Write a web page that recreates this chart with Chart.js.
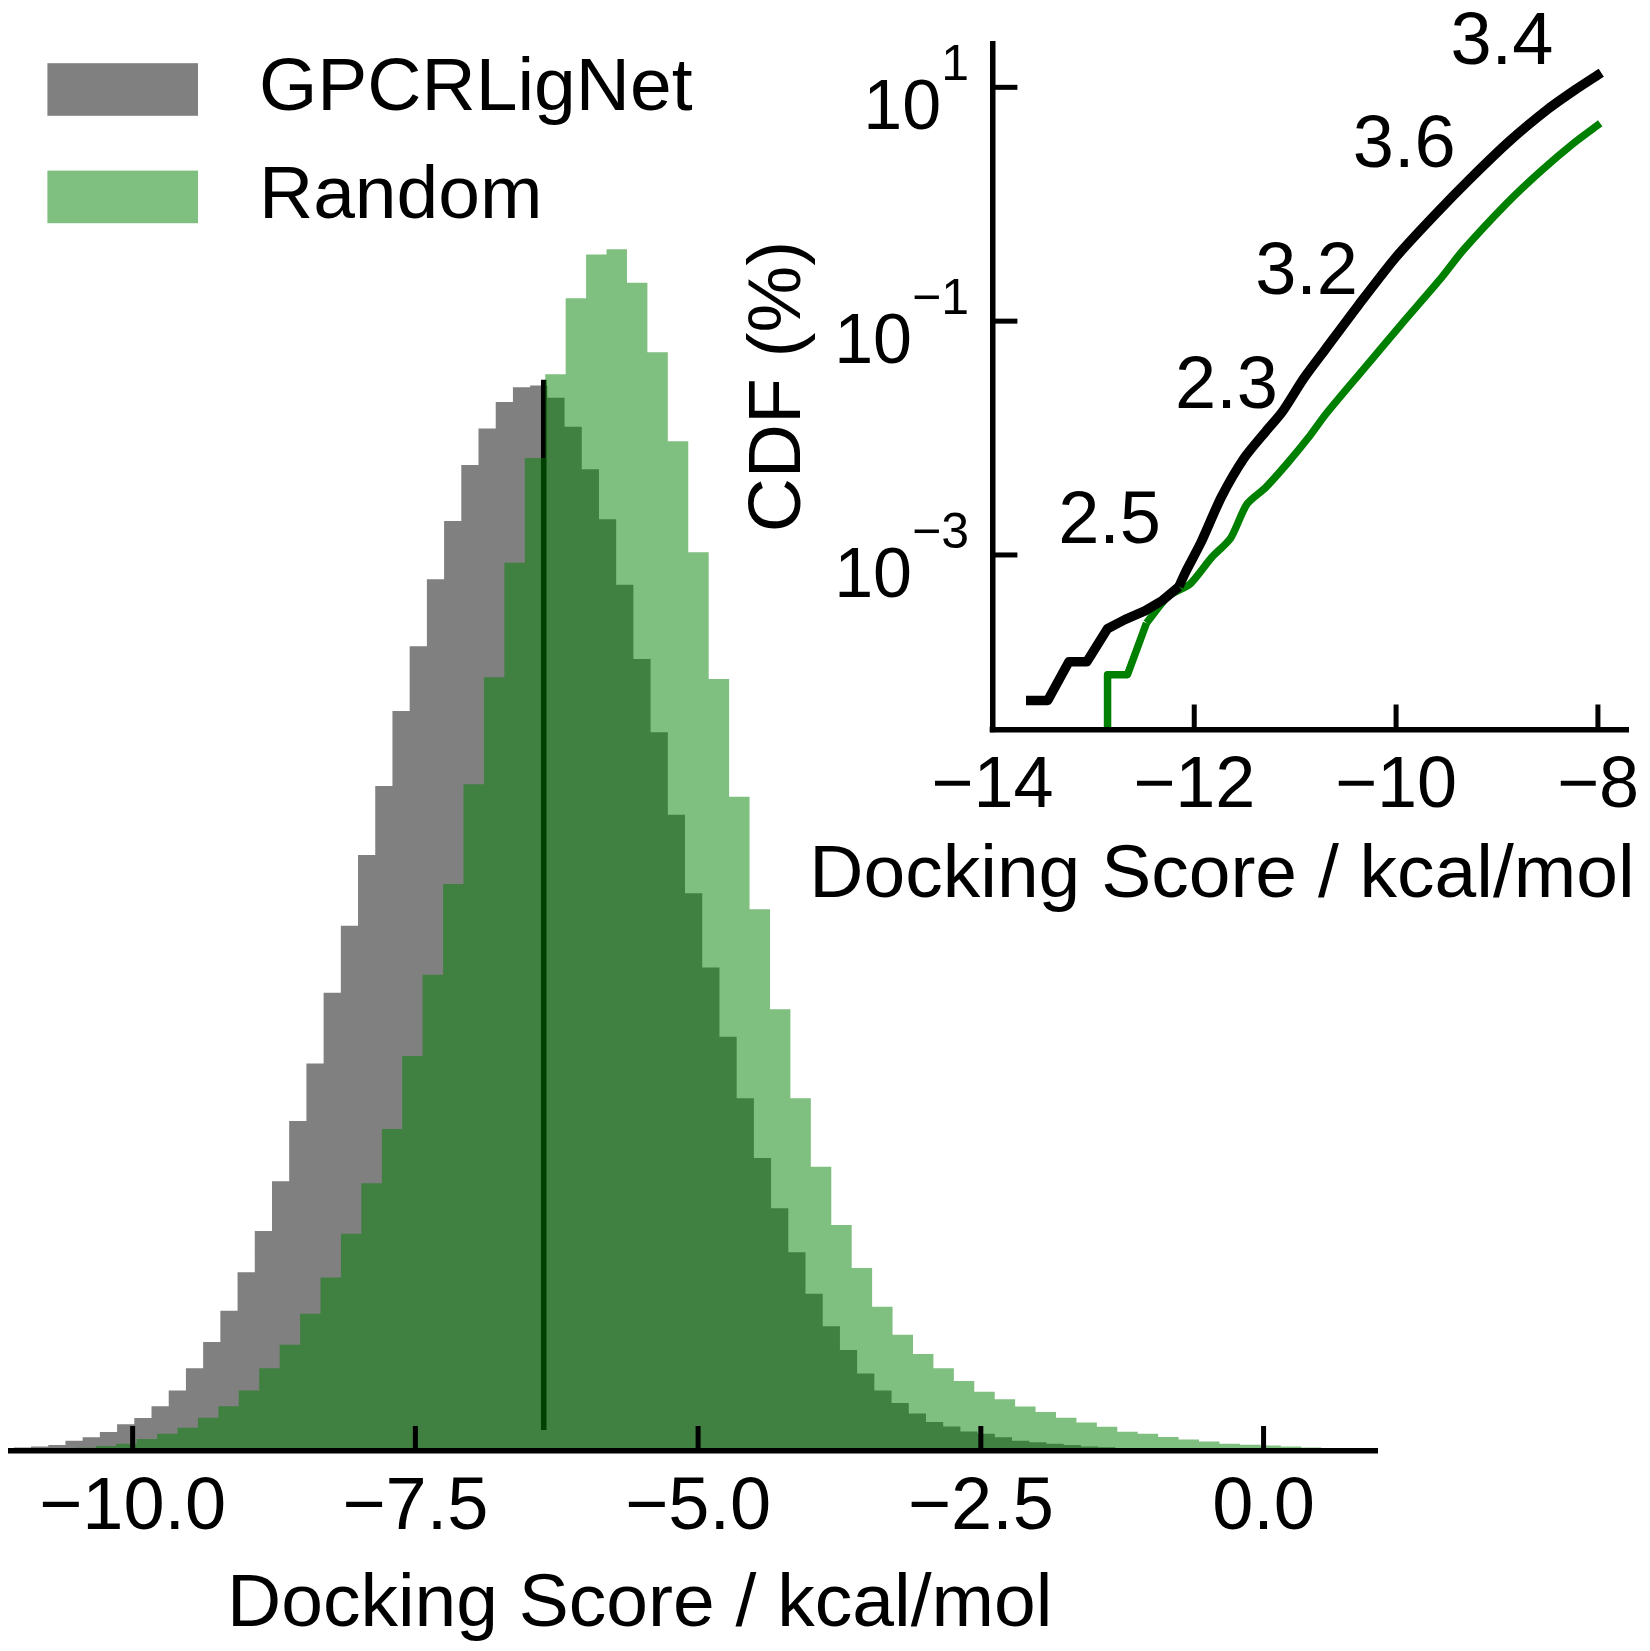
<!DOCTYPE html>
<html lang="en">
  <head>
    <meta charset="UTF-8" />
    <title>Docking score distribution</title>
    <script src="https://cdn.jsdelivr.net/npm/chart.js@4.4.1/dist/chart.umd.min.js"></script>
    <style>
      body {
        margin: 0;
        background: #fff;
      }
      #wrap {
        position: relative;
        width: 1650px;
        height: 1651px;
      }
      #mainChart {
        position: absolute;
        left: 0;
        top: 0;
      }
      #insetChart {
        position: absolute;
        left: 700px;
        top: 0;
      }
    </style>
  </head>
  <body>
    <div id="wrap">
      <canvas id="mainChart" width="1650" height="1651"></canvas>
      <canvas id="insetChart" width="950" height="930"></canvas>
    </div>

    <script>
      // Histogram bins (density)
      const grayStart = -11.2028; // left edge of first GPCRLigNet bin
      const grayWidth = 0.15218;
      const grayDensity = [
        0.0007, 0.001, 0.0013, 0.0017, 0.0029, 0.0039, 0.0054, 0.0076, 0.0094,
        0.0128, 0.0173, 0.0236, 0.0311, 0.04, 0.051, 0.0628, 0.077, 0.0942,
        0.1106, 0.1308, 0.1499, 0.1701, 0.1898, 0.2112, 0.2297, 0.2488, 0.2654,
        0.2814, 0.2918, 0.2994, 0.3036, 0.3041, 0.3006, 0.2923, 0.2802, 0.2659,
        0.2472, 0.226, 0.2051, 0.1816, 0.1592, 0.138, 0.1182, 0.1007, 0.0836,
        0.0693, 0.0567, 0.0449, 0.0356, 0.0288, 0.0221, 0.0173, 0.0137, 0.0107,
        0.0083, 0.007, 0.0056, 0.0049, 0.0039, 0.0029, 0.0025, 0.0021, 0.0017,
        0.0013, 0.0011, 0.0007, 0.0006, 0.0004, 0.0003,
      ];

      const greenStart = -10.5066; // left edge of first Random bin
      const greenWidth = 0.18065;
      const greenDensity = [
        0.0009, 0.0014, 0.0021, 0.0034, 0.0049, 0.0066, 0.0095, 0.0128, 0.0173,
        0.0236, 0.0303, 0.0392, 0.0495, 0.062, 0.0764, 0.0919, 0.1127, 0.1359,
        0.1618, 0.1903, 0.2208, 0.2535, 0.2834, 0.3073, 0.329, 0.3415, 0.343,
        0.3334, 0.3136, 0.2882, 0.2565, 0.2203, 0.1867, 0.1546, 0.1261, 0.1007,
        0.0811, 0.0645, 0.0522, 0.0412, 0.0332, 0.0277, 0.0236, 0.02, 0.0169,
        0.0148, 0.0127, 0.0111, 0.0095, 0.0081, 0.0069, 0.0055, 0.0049, 0.004,
        0.0033, 0.0027, 0.0021, 0.0018, 0.0016, 0.0013, 0.001,
      ];

      const medianScore = -6.365;
      const medianSpan = [0.006, 0.3057];
      const mainTicks = [-10, -7.5, -5, -2.5, 0];

      // Inset: CDF (%) against docking score
      const netScore = [
        -13.667, -13.452, -13.242, -13.064, -12.86, -12.688, -12.489, -12.312,
        -12.151, -12.086, -11.935, -11.731, -11.506, -11.291, -11.129, -10.914,
        -10.699, -10.376, -10.0, -9.624, -9.247, -8.871, -8.494, -8.225, -7.967,
      ];
      const netCdf = [
        5.69e-5, 5.69e-5, 1.22e-4, 1.22e-4, 2.34e-4, 2.8e-4, 3.33e-4, 4.1e-4,
        5.37e-4, 7.14e-4, 1.27e-3, 3.13e-3, 6.73e-3, 0.0114, 0.0167, 0.0325,
        0.0577, 0.136, 0.354, 0.798, 1.714, 3.5, 6.52, 9.53, 13.34,
      ];
      const netStepEnd = 8; // last point of the jagged low-count part
      const randScore = [
        -12.859, -12.859, -12.662, -12.473, -12.258, -12.044, -11.828, -11.64,
        -11.478, -11.291, -11.075, -10.86, -10.699, -10.322, -9.946, -9.569,
        -9.334, -8.904, -8.573, -8.243, -7.978,
      ];
      const randCdf = [
        1e-6, 9.44e-5, 9.44e-5, 2.62e-4, 4.44e-4, 5.62e-4, 9.51e-4, 1.39e-3,
        2.72e-3, 3.79e-3, 6.12e-3, 0.0103, 0.0159, 0.0389, 0.0944, 0.225, 0.406,
        1.018, 1.897, 3.32, 4.92,
      ];
      const randStepEnd = 3;
      const insetXTicks = [-14, -12, -10, -8];
      const insetYTicks = [10, 0.1, 0.001];

      const noteText = ["3.4", "3.6", "3.2", "2.3", "2.5"];
      const noteScore = [-8.952, -9.92, -10.887, -11.681, -12.839];
      const noteCdf = [23.66, 3.11, 0.2534, 0.02704, 0.001901];

      const FONT = '"Liberation Sans", Arial, sans-serif';
      Chart.defaults.font.family = FONT;
      Chart.defaults.color = "#000";

      const minus = (s) => String(s).replace("-", "\u2212");

      // histogram outline as a closed staircase
      function histPoints(start, width, dens) {
        const pts = [];
        dens.forEach((d, i) => {
          const left = start + i * width;
          pts.push({ x: left, y: d }, { x: left + width, y: d });
        });
        return pts;
      }

      const xy = (xs, ys) => xs.map((x, i) => ({ x, y: ys[i] }));

      // ticks pointing into the plot, like the original
      const inwardTicks = {
        id: "inwardTicks",
        afterDatasetsDraw(chart, args, opts) {
          const { ctx, chartArea: a, scales } = chart;
          ctx.save();
          ctx.strokeStyle = "#000";
          ctx.lineWidth = opts.width;
          (opts.x || []).forEach((v) => {
            const px = scales.x.getPixelForValue(v);
            ctx.beginPath();
            ctx.moveTo(px, a.bottom);
            ctx.lineTo(px, a.bottom - opts.length);
            ctx.stroke();
          });
          (opts.y || []).forEach((v) => {
            const py = scales.y.getPixelForValue(v);
            ctx.beginPath();
            ctx.moveTo(a.left, py);
            ctx.lineTo(a.left + opts.length, py);
            ctx.stroke();
          });
          if (opts.corner) {
            ctx.fillStyle = "#000";
            ctx.fillRect(a.left - 2.75, a.bottom - 2.75, 5.5, 5.5);
          }
          ctx.restore();
        },
      };

      // legend boxes + x title of the main panel
      const mainDecor = {
        id: "mainDecor",
        afterDraw(chart) {
          const ctx = chart.ctx;
          ctx.save();
          ctx.font = "75px " + FONT;
          ctx.textBaseline = "middle";
          const items = chart.data.datasets
            .filter((d) => d.inLegend)
            .sort((a, b) => a.legendRank - b.legendRank);
          items.forEach((d, i) => {
            const y = 63.2 + i * 107.4;
            ctx.fillStyle = d.backgroundColor;
            ctx.fillRect(47.4, y, 150.6, 52.6);
            ctx.fillStyle = "#000";
            ctx.textAlign = "left";
            ctx.fillText(d.label, 259, y + 26.3);
          });
          ctx.textAlign = "center";
          ctx.fillText("Docking Score / kcal/mol", 639.7, 1605);
          ctx.restore();
        },
      };

      // 10^n tick labels, x title and the numbers written on the inset
      const insetDecor = {
        id: "insetDecor",
        afterDraw(chart) {
          const { ctx, scales } = chart;
          ctx.save();
          ctx.fillStyle = "#000";
          insetYTicks.forEach((v) => {
            const py = scales.y.getPixelForValue(v);
            const exp = minus(Math.round(Math.log10(v)));
            ctx.textBaseline = "alphabetic";
            ctx.font = "50px " + FONT;
            const supW = ctx.measureText(exp).width;
            const right = 269;
            ctx.textAlign = "left";
            ctx.fillText(exp, right - supW, py - 7);
            ctx.font = "70px " + FONT;
            ctx.textAlign = "right";
            ctx.fillText("10", right - supW, py + 42);
          });
          ctx.textAlign = "center";
          ctx.textBaseline = "middle";
          ctx.font = "75px " + FONT;
          ctx.fillText("Docking Score / kcal/mol", 522, 876);
          ctx.font = "74px " + FONT;
          noteText.forEach((t, i) => {
            ctx.fillText(
              t,
              scales.x.getPixelForValue(noteScore[i]),
              scales.y.getPixelForValue(noteCdf[i])
            );
          });
          ctx.restore();
        },
      };

      // Main histogram
      new Chart(document.getElementById("mainChart"), {
        type: "line",
        data: {
          datasets: [
            {
              label: "Random",
              inLegend: true,
              legendRank: 1,
              data: histPoints(greenStart, greenWidth, greenDensity),
              backgroundColor: "rgba(0, 128, 0, 0.5)",
              borderColor: "rgba(0,0,0,0)",
              borderWidth: 0,
              fill: "origin",
              pointRadius: 0,
              tension: 0,
              order: 0,
            },
            {
              label: "median",
              data: [
                { x: medianScore, y: medianSpan[0] },
                { x: medianScore, y: medianSpan[1] },
              ],
              borderColor: "#000",
              borderWidth: 5.5,
              fill: false,
              pointRadius: 0,
              order: 1,
            },
            {
              label: "GPCRLigNet",
              inLegend: true,
              legendRank: 0,
              data: histPoints(grayStart, grayWidth, grayDensity),
              backgroundColor: "#808080",
              borderColor: "rgba(0,0,0,0)",
              borderWidth: 0,
              fill: "origin",
              pointRadius: 0,
              tension: 0,
              order: 2,
            },
          ],
        },
        options: {
          responsive: false,
          animation: false,
          layout: { padding: { left: 10.5, right: 273, top: 189.6, bottom: 0 } },
          plugins: {
            legend: { display: false },
            tooltip: { enabled: false },
            inwardTicks: { x: mainTicks, length: 25, width: 5 },
          },
          scales: {
            x: {
              type: "linear",
              min: -11.08,
              max: 1.003,
              afterBuildTicks: (s) => {
                s.ticks = mainTicks.map((v) => ({ value: v }));
              },
              afterFit: (s) => {
                s.height = 200;
                s.paddingLeft = 0;
                s.paddingRight = 0;
              },
              grid: { display: false, drawTicks: false },
              border: { display: true, color: "#000", width: 5.5, z: 1 },
              ticks: {
                font: { size: 74 },
                padding: 13,
                maxRotation: 0,
                autoSkip: false,
                callback: (v) => minus(v.toFixed(1)),
              },
            },
            y: { display: false, min: 0, max: 0.36 },
          },
        },
        plugins: [inwardTicks, mainDecor],
      });

      // Inset CDF: the jagged low end is drawn straight, the rest smooth
      const netStyle = { borderColor: "#000", borderWidth: 9.5, clip: 0 };
      const randStyle = { borderColor: "#008000", borderWidth: 7.5, clip: 0 };
      const netPts = xy(netScore, netCdf);
      const randPts = xy(randScore, randCdf);

      new Chart(document.getElementById("insetChart"), {
        type: "line",
        data: {
          datasets: [
            { label: "GPCRLigNet", data: netPts.slice(0, netStepEnd + 1), tension: 0, ...netStyle },
            { label: "GPCRLigNet", data: netPts.slice(netStepEnd), tension: 0.25, ...netStyle },
            { label: "Random", data: randPts.slice(0, randStepEnd + 1), tension: 0, ...randStyle },
            { label: "Random", data: randPts.slice(randStepEnd), tension: 0.25, ...randStyle },
          ],
        },
        options: {
          responsive: false,
          animation: false,
          layout: { padding: { left: 0, right: 21.8, top: 43.6, bottom: 0 } },
          elements: {
            point: { radius: 0 },
            line: {
              fill: false,
              borderJoinStyle: "round",
              borderCapStyle: "butt",
            },
          },
          plugins: {
            legend: { display: false },
            tooltip: { enabled: false },
            inwardTicks: {
              x: insetXTicks.slice(1),
              y: insetYTicks,
              length: 25,
              width: 5,
              corner: true,
            },
          },
          scales: {
            x: {
              type: "linear",
              min: -14,
              max: -7.7,
              afterBuildTicks: (s) => {
                s.ticks = insetXTicks.map((v) => ({ value: v }));
              },
              afterFit: (s) => {
                s.height = 200.5;
                s.paddingLeft = 0;
                s.paddingRight = 0;
              },
              grid: { display: false, drawTicks: false },
              border: { display: true, color: "#000", width: 5.5, z: 1 },
              ticks: {
                font: { size: 72 },
                padding: 14.3,
                maxRotation: 0,
                autoSkip: false,
                callback: (v) => minus(v),
              },
            },
            y: {
              type: "logarithmic",
              min: 3.214e-5,
              max: 23.66,
              afterBuildTicks: (s) => {
                s.ticks = insetYTicks.map((v) => ({ value: v }));
              },
              afterFit: (s) => {
                s.width = 292.4;
              },
              grid: { display: false, drawTicks: false },
              border: { display: true, color: "#000", width: 5.5, z: 1 },
              ticks: { display: false },
              title: {
                display: true,
                text: "CDF (%)",
                font: { size: 75 },
                padding: { top: 34.6, bottom: 0 },
              },
            },
          },
        },
        plugins: [inwardTicks, insetDecor],
      });
    </script>
  </body>
</html>
